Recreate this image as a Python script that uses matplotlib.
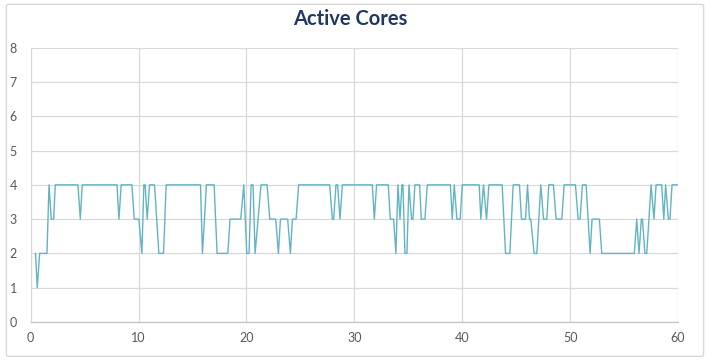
import matplotlib.pyplot as plt
from matplotlib.patches import FancyBboxPatch

# Vertices of the trace
time_s = [
    0.45, 0.61, 0.83, 1.51, 1.70, 1.91, 2.13, 2.28, 4.38, 4.60, 4.78, 8.00,
    8.18, 8.39, 9.38, 9.60, 10.03, 10.31, 10.49, 10.61, 10.80, 11.02, 11.48,
    11.88, 12.31, 12.56, 15.74, 15.92, 16.29, 17.00, 17.28, 18.27, 18.48,
    19.47, 19.75, 20.03, 20.24, 20.43, 20.61, 20.80, 21.08, 21.35, 21.91,
    22.16, 22.71, 22.96, 23.15, 23.82, 24.07, 24.26, 24.60, 24.84, 27.71,
    27.96, 28.08, 28.30, 28.45, 28.67, 28.89, 31.66, 31.85, 32.06, 33.14,
    33.33, 33.64, 33.85, 34.04, 34.23, 34.41, 34.50, 34.69, 34.87, 35.06,
    35.30, 35.43, 35.61, 36.05, 36.20, 36.54, 36.76, 38.90, 39.07, 39.26,
    39.50, 39.81, 40.00, 41.57, 41.72, 41.97, 42.25, 42.47, 43.70, 44.01,
    44.41, 44.72, 45.30, 45.49, 45.86, 46.05, 46.23, 46.35, 46.66, 46.91,
    47.28, 47.53, 47.84, 48.02, 48.45, 48.70, 49.23, 49.44, 50.49, 50.74,
    50.92, 51.14, 51.48, 51.85, 52.03, 52.71, 52.93, 55.95, 56.17, 56.38,
    56.60, 56.70, 56.93, 57.10, 57.50, 57.77, 57.96, 58.48, 58.68, 58.85,
    59.10, 59.25, 59.44, 60.00,
]
active_cores = [
    2, 1, 2, 2, 4, 3, 3, 4, 4, 3, 4, 4,
    3, 4, 4, 3, 3, 2, 4, 4, 3, 4, 4,
    2, 2, 4, 4, 2, 4, 4, 2, 2, 3,
    3, 4, 2, 2, 4, 4, 2, 3, 4, 4,
    3, 3, 2, 3, 3, 2, 3, 3, 4, 4,
    3, 3, 4, 4, 3, 4, 4, 3, 4, 4,
    3, 3, 2, 4, 3, 4, 4, 2, 2, 4,
    3, 3, 4, 4, 3, 3, 4, 4, 3, 4,
    3, 3, 4, 4, 3, 4, 3, 4, 4, 2,
    2, 4, 4, 3, 3, 4, 3, 3, 2, 2,
    4, 3, 3, 4, 4, 3, 3, 4, 4, 3,
    3, 4, 4, 2, 3, 3, 2, 2, 3, 2,
    3, 3, 2, 2, 4, 3, 4, 4, 3, 4,
    3, 3, 4, 4,
]
x_ticks = [0, 10, 20, 30, 40, 50, 60]
y_ticks = [0, 1, 2, 3, 4, 5, 6, 7, 8]

plt.rcParams['font.family'] = ['Lato', 'DejaVu Sans']

fig = plt.figure(figsize=(7.10, 3.61), dpi=100)

# light chart-area frame
frame = FancyBboxPatch((0.009, 0.013), 0.982, 0.975,
                       boxstyle="round,pad=0,rounding_size=0.004",
                       transform=fig.transFigure, fill=False,
                       edgecolor='#D9D9D9', linewidth=1.0)
fig.patches.append(frame)

ax = fig.add_axes([0.0432, 0.108, 0.9118, 0.760])
ax.plot(time_s, active_cores, color='#62B4C4', linewidth=1.0)

ax.set_xlim(0, 60)
ax.set_ylim(0, 8)
ax.set_xticks(x_ticks)
ax.set_yticks(y_ticks)
ax.grid(True, color='#D9D9D9', linewidth=0.9)
ax.set_axisbelow(True)
ax.tick_params(length=0, labelsize=9, labelcolor='#595959')
ax.tick_params(axis='y', pad=10)
ax.tick_params(axis='x', pad=7)
for side in ['top', 'right']:
    ax.spines[side].set_visible(False)
ax.spines['left'].set_color('#D9D9D9')
ax.spines['bottom'].set_color('#BFBFBF')

fig.text(0.494, 0.947, 'Active Cores', ha='center', va='center',
         fontsize=14.5, fontweight='bold', color='#1F3864')

plt.savefig('out.png', dpi=100)
